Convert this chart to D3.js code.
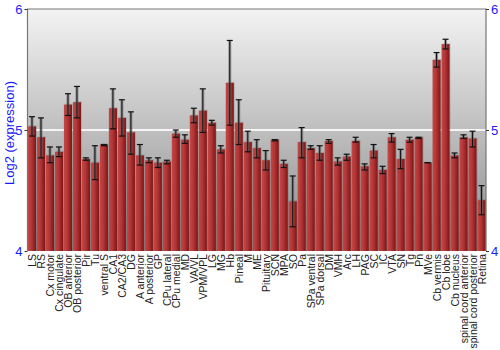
<!DOCTYPE html>
<html>
<head>
<meta charset="utf-8">
<script src="https://cdn.jsdelivr.net/npm/d3@7"></script>
<style>
  body { margin: 0; background: #fff; }
  svg { display: block; font-family: "Liberation Sans", Arial, sans-serif; }
</style>
</head>
<body>
<svg id="chart" width="500" height="350"></svg>
<script>
var regions = ["LS", "RS", "Cx motor", "Cx cingulate", "OB anterior", "OB posterior", "Pir", "Tu",
  "ventral S", "CA1", "CA2/CA3", "DG", "A anterior", "A posterior", "GP", "CPu lateral",
  "CPu medial", "MD", "VA/VL", "VPM/VPL", "LG", "MG", "Hb", "Pineal", "M", "ME", "Pituitary",
  "SCN", "MPA", "SO", "Pa", "SPa ventral", "SPa dorsal", "DM", "VMH", "Arc", "LH", "PAG",
  "SC", "IC", "VTA", "SN", "Tg", "Pn", "MVe", "Cb vermis", "Cb lobe", "Cb nucleus",
  "spinal cord anterior", "spinal cord posterior", "Retina"];

var means = [5.03, 4.94, 4.79, 4.82, 5.21, 5.23, 4.76, 4.73, 4.88, 5.18, 5.10, 4.98, 4.79,
  4.75, 4.73, 4.74, 4.97, 4.92, 5.12, 5.16, 5.06, 4.84, 5.39, 5.06, 4.90, 4.85, 4.75,
  4.92, 4.72, 4.41, 4.90, 4.85, 4.81, 4.91, 4.74, 4.78, 4.91, 4.70, 4.83, 4.67, 4.94,
  4.76, 4.92, 4.94, 4.73, 5.58, 5.71, 4.79, 4.94, 4.93, 4.42];

var errHigh = [5.11, 5.10, 4.86, 4.86, 5.30, 5.36, 4.77, 4.87, 4.88, 5.34, 5.25, 5.15, 4.88,
  4.77, 4.77, 4.75, 5.00, 4.96, 5.18, 5.34, 5.08, 4.87, 5.74, 5.25, 4.99, 4.92, 4.83,
  4.92, 4.75, 4.62, 5.02, 4.87, 4.87, 4.92, 4.77, 4.80, 4.94, 4.72, 4.88, 4.70, 4.97,
  4.84, 4.94, 4.94, 4.73, 5.64, 5.75, 4.81, 4.96, 4.99, 4.54];

var errLow = [4.95, 4.77, 4.73, 4.78, 5.12, 5.10, 4.75, 4.59, 4.87, 5.01, 4.95, 4.80, 4.71,
  4.73, 4.69, 4.72, 4.94, 4.89, 5.06, 4.98, 5.04, 4.81, 5.04, 4.88, 4.82, 4.77, 4.67,
  4.91, 4.69, 4.20, 4.77, 4.84, 4.75, 4.89, 4.71, 4.75, 4.90, 4.67, 4.77, 4.64, 4.90,
  4.68, 4.90, 4.93, 4.73, 5.52, 5.67, 4.77, 4.93, 4.86, 4.30];

var yTicks = [4, 5, 6];

(function() {
  var svg = d3.select("#chart");
  var plotL = 27.5, plotR = 486, plotT = 9, plotB = 251;

  var x = d3.scaleBand().domain(regions).range([plotL, plotR]).paddingInner(0.1).paddingOuter(0.05);
  var y = d3.scaleLinear().domain([4, 6]).range([plotB, plotT]);

  var defs = svg.append("defs");
  var bg = defs.append("linearGradient").attr("id", "bg").attr("x1", 0).attr("y1", 0).attr("x2", 0).attr("y2", 1);
  bg.append("stop").attr("offset", "0%").attr("stop-color", "#f3f3f3");
  bg.append("stop").attr("offset", "100%").attr("stop-color", "#8a8a8a");

  var barGrad = defs.append("linearGradient").attr("id", "bar").attr("x1", 0).attr("y1", 0).attr("x2", 1).attr("y2", 0);
  barGrad.append("stop").attr("offset", "0%").attr("stop-color", "#c24848");
  barGrad.append("stop").attr("offset", "45%").attr("stop-color", "#b33535");
  barGrad.append("stop").attr("offset", "100%").attr("stop-color", "#7e1515");

  // plot background
  svg.append("rect")
    .attr("x", plotL).attr("y", plotT)
    .attr("width", plotR - plotL).attr("height", plotB - plotT)
    .attr("fill", "url(#bg)");

  // grid line at 5
  svg.append("line")
    .attr("x1", plotL).attr("x2", plotR)
    .attr("y1", y(5)).attr("y2", y(5))
    .attr("stroke", "#f4f4f4").attr("stroke-width", 2);

  // bar shadows
  svg.append("g").selectAll("rect").data(regions).enter().append("rect")
    .attr("x", function(d) { return x(d) + 1; })
    .attr("y", function(d, i) { return y(means[i]) - 1; })
    .attr("width", x.bandwidth())
    .attr("height", function(d, i) { return plotB - y(means[i]) + 1; })
    .attr("fill", "#000").attr("opacity", 0.12);

  // bars
  svg.append("g").selectAll("rect").data(regions).enter().append("rect")
    .attr("x", function(d) { return x(d); })
    .attr("y", function(d, i) { return y(means[i]); })
    .attr("width", x.bandwidth())
    .attr("height", function(d, i) { return plotB - y(means[i]); })
    .attr("fill", "url(#bar)");

  // error bars
  var eb = svg.append("g").selectAll("g").data(regions).enter().append("g")
    .attr("transform", function(d) { return "translate(" + (x(d) + x.bandwidth() / 2) + ",0)"; });
  eb.append("line")
    .attr("y1", function(d, i) { return y(errHigh[i]); })
    .attr("y2", function(d, i) { return y(errLow[i]); })
    .attr("stroke", "#666").attr("stroke-width", 3).attr("opacity", 0.6);
  eb.append("line")
    .attr("y1", function(d, i) { return y(errHigh[i]); })
    .attr("y2", function(d, i) { return y(errLow[i]); })
    .attr("stroke", "#111").attr("stroke-width", 1);
  [errHigh, errLow].forEach(function(arr) {
    eb.append("line")
      .attr("x1", -3).attr("x2", 3)
      .attr("y1", function(d, i) { return y(arr[i]); })
      .attr("y2", function(d, i) { return y(arr[i]); })
      .attr("stroke", "#111").attr("stroke-width", 1.2);
  });

  // frame
  svg.append("path")
    .attr("d", "M" + plotL + "," + plotB + "V" + plotT + "H" + plotR + "V" + plotB)
    .attr("fill", "none").attr("stroke", "#777").attr("stroke-width", 1.2);

  // y axes
  var yAxisL = svg.append("g").attr("transform", "translate(" + plotL + ",0)")
    .call(d3.axisLeft(y).tickValues(yTicks).tickFormat(d3.format("d")).tickSize(3));
  var yAxisR = svg.append("g").attr("transform", "translate(" + plotR + ",0)")
    .call(d3.axisRight(y).tickValues(yTicks).tickFormat(d3.format("d")).tickSize(3));
  [yAxisL, yAxisR].forEach(function(a) {
    a.select(".domain").remove();
    a.selectAll("line").attr("stroke", "#333");
    a.selectAll("text").attr("fill", "#1a1aff").style("font-size", "13px")
      .style("font-family", "'Liberation Sans', Arial, sans-serif");
  });
  yAxisL.selectAll("text").attr("x", -5);
  yAxisR.selectAll("text").attr("x", 5);

  svg.append("text")
    .attr("transform", "translate(14," + (y(5) + 3) + ") rotate(-90)")
    .attr("text-anchor", "middle")
    .attr("fill", "#1a1aff")
    .style("font-size", "13px")
    .text("Log2 (expression)");

  // category labels
  svg.append("g").selectAll("text").data(regions).enter().append("text")
    .attr("transform", function(d) {
      return "translate(" + (x(d) + x.bandwidth() / 2 + 4) + "," + (plotB + 3) + ") rotate(-90)";
    })
    .attr("text-anchor", "end")
    .attr("fill", "#222")
    .style("font-size", "10.5px")
    .text(function(d) { return d; });
})();
</script>
</body>
</html>
